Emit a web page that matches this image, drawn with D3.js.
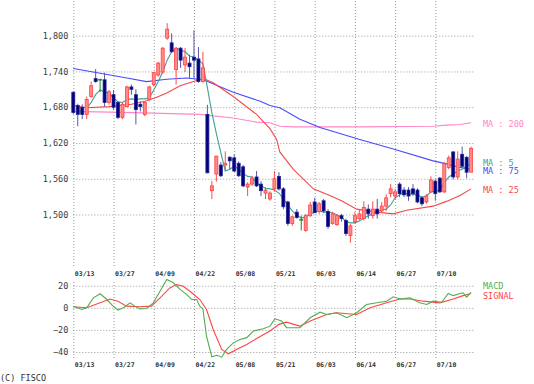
<!DOCTYPE html>
<html>
<head>
<meta charset="utf-8">
<script src="https://cdn.jsdelivr.net/npm/d3@7"></script>
<style>
body { margin: 0; background: #fff; }
svg text { font-family: "DejaVu Sans Mono", monospace; }
.grid line { stroke: #9a9a9a; stroke-dasharray: 1,2; }
.grid path { display: none; }
</style>
</head>
<body>
<div id="chart"></div>
<script>
// Candle chart with moving averages + MACD panel

// Data
// =========================
var tickIdx = [0, 9, 18, 27, 36, 45, 54, 63, 72, 81];
var tickLabels = ["03/13", "03/27", "04/09", "04/22", "05/08", "05/21", "06/03", "06/14", "06/27", "07/10"];
var priceTicks = [1500, 1560, 1620, 1680, 1740, 1800];
var macdTicks = [-40, -20, 0, 20];

var opens = [1705,1683,1680,1668,1698,1728,1726,1726,1688,1701,
  1688,1663,1681,1714,1701,1685,1668,1693,1718,1734,
  1739,1796,1788,1743,1779,1751,1754,1764,1761,1723,
  1668,1540,1568,1583,1583,1596,1595,1586,1580,1546,
  1551,1563,1551,1536,1526,1543,1564,1543,1521,1485,
  1504,1491,1473,1498,1521,1505,1523,1505,1485,1483,
  1498,1490,1465,1488,1493,1493,1509,1498,1509,1506,
  1514,1535,1531,1551,1541,1541,1543,1541,1528,1521,
  1538,1556,1561,1538,1579,1605,1563,1601,1596,1571];
var highs = [1707,1686,1685,1698,1723,1744,1728,1738,1709,1709,
  1690,1688,1716,1718,1710,1690,1690,1716,1739,1756,
  1781,1821,1804,1781,1781,1779,1768,1809,1781,1773,
  1684,1556,1598,1588,1606,1598,1601,1589,1583,1554,
  1565,1573,1556,1546,1539,1573,1571,1546,1523,1498,
  1509,1498,1501,1521,1528,1521,1526,1509,1504,1501,
  1501,1493,1484,1504,1509,1522,1517,1522,1526,1521,
  1534,1551,1543,1554,1546,1546,1551,1544,1531,1534,
  1564,1559,1563,1588,1599,1606,1606,1614,1598,1614];
var lows = [1668,1648,1660,1660,1696,1721,1705,1681,1684,1676,
  1660,1660,1680,1701,1651,1673,1665,1690,1715,1731,
  1736,1793,1771,1718,1746,1739,1729,1729,1721,1721,
  1569,1526,1555,1563,1573,1576,1571,1563,1546,1531,
  1548,1546,1531,1526,1523,1538,1540,1509,1481,1481,
  1493,1473,1471,1496,1503,1501,1503,1476,1483,1481,
  1488,1464,1453,1485,1490,1490,1493,1493,1493,1504,
  1506,1529,1526,1529,1529,1523,1531,1519,1514,1518,
  1536,1523,1536,1536,1576,1559,1559,1579,1561,1571];
var closes = [1671,1668,1668,1693,1716,1723,1726,1688,1706,1680,
  1663,1685,1714,1710,1676,1681,1688,1714,1738,1754,
  1779,1811,1773,1779,1759,1764,1748,1759,1723,1746,
  1570,1548,1598,1565,1586,1590,1573,1565,1548,1551,
  1561,1548,1540,1541,1536,1560,1543,1513,1485,1496,
  1495,1491,1498,1516,1503,1518,1506,1480,1501,1498,
  1493,1468,1481,1498,1501,1512,1501,1509,1501,1514,
  1528,1543,1538,1535,1533,1531,1535,1521,1518,1531,
  1558,1535,1538,1585,1595,1563,1593,1581,1571,1611];

// MA 5 per bar (starts at bar 3)
var ma5 = [null,null,null,1679,1688,1701,1709,1706,1703,1696,
  1689,1688,1693,1694,1693,1694,1694,1696,1709,1723,
  1739,1759,1773,1779,1776,1773,1766,1764,1759,1753,
  1713,1671,1636,1604,1573,1576,1581,1576,1569,1564,
  1563,1553,1548,1544,1543,1541,1536,1526,1516,1506,
  1499,1494,1496,1501,1504,1506,1504,1504,1503,1499,
  1496,1488,1486,1486,1489,1494,1498,1501,1504,1508,
  1509,1516,1528,1533,1536,1534,1534,1533,1529,1531,
  1538,1539,1541,1553,1563,1568,1573,1576,1581,1586];

// [bar, value] points for the slower lines
var ma25 = [[0,1683],[3,1679],[8,1681],[13,1685],[16,1690],[18.4,1696],[20.9,1704],
  [23.9,1716],[26.9,1723],[29.1,1728],[31.3,1721],[35.8,1698],[41,1668],[44,1644],
  [45.5,1626],[46.2,1605],[49.2,1576],[53.7,1543],[57.4,1532],[60,1523],[63.4,1509],
  [67.9,1504],[71.6,1501],[74.6,1507],[80.5,1514],[83.5,1522],[86.5,1532],[89,1543]];
var ma75 = [[0,1745],[6,1737],[12,1729],[16.4,1723],[20.9,1727],[25.4,1729],[29.1,1726],
  [35.8,1705],[41.8,1690],[44,1683],[46.2,1679],[50.7,1660],[55.2,1646],[64.1,1626],
  [71.6,1610],[80.5,1590],[83.5,1585],[86.5,1579],[89,1576]];
var ma200 = [[0,1673],[13.4,1671],[28.3,1668],[35.8,1662],[41,1655],[44,1654],[46.2,1648],
  [49.2,1647],[64,1647],[80.5,1648],[83.5,1650],[86.5,1651],[89,1654]];

var macd = [[0,1.5],[1.9,-1.5],[3,0],[4.5,9],[6,12.7],[7.5,7.5],[8.9,1.5],[10,-2],[11.2,0],
  [12.7,4.5],[13.8,1.5],[14.9,-1],[16.4,-0.6],[17.9,4.5],[19.4,15],[20.9,25.6],[22.4,22.6],
  [23.9,16.6],[25.4,12],[26.5,7.5],[27.6,7.5],[28.3,1.5],[29,-1],[29.8,-25.7],[31,-44.3],
  [32.1,-43],[33.2,-44.7],[34.3,-37.7],[35.8,-31.7],[37.3,-28.7],[38.8,-27],[40.3,-21],
  [42.5,-19],[44,-16.6],[45.1,-10],[46.6,-12],[47.7,-18],[50.7,-18],[53,-9],[55.2,-4],
  [56.7,-6],[58.9,-4.5],[61.2,-9],[63.4,-4.5],[65.6,3],[67.9,4.5],[70.1,6],[71.6,10],
  [73.1,8],[75.3,9],[77.5,4.5],[79.1,3],[80.5,6],[82.4,5],[83.9,13],[85,11],[86.5,13],
  [87.2,13.6],[88,9.6],[89,14]];
var signal = [[0,1],[3,0],[6,4.5],[8.2,8],[10,6],[11.9,1.5],[14.9,1],[17.5,1.5],[19.4,9],
  [21.6,18],[23.1,21],[24.6,19.5],[26.5,13.6],[28.3,7.5],[29.8,-1.5],[31.3,-19.6],
  [33.2,-37.7],[34.7,-41.6],[36.5,-37.7],[38.8,-33.2],[41.8,-26],[44,-21],[46,-15],
  [47.7,-13],[50.7,-16.6],[53,-12],[56.7,-6],[58.9,-4.5],[63.4,-6],[66.4,0],[70.1,4.5],
  [73.1,8],[75.3,8],[78.3,6],[82,4.5],[85,8],[87.2,11],[89,13]];

// Setup
// =====
var width = 534;
var height = 384;

var svg = d3.select("#chart")
  .append("svg")
  .attr("width", width)
  .attr("height", height);

var xScale = d3.scaleLinear().domain([0, 89]).range([73.3, 471.1]);
var yScale = d3.scaleLinear().domain([1500, 1800]).range([214.5, 35.7]);
var mScale = d3.scaleLinear().domain([-40, 20]).range([352, 285.7]);

var gridLeft = 73.3;
var gridW = 400;

// Grids / axes
// ============
function styleXAxis(g, textY) {
  g.selectAll("text")
    .attr("text-anchor", "start")
    .attr("x", 1)
    .attr("y", textY)
    .attr("dy", 0)
    .attr("font-size", "6.5px")
    .attr("font-weight", "bold")
    .attr("fill", "#333");
}

// main price panel
svg.append("g")
  .attr("class", "grid")
  .attr("transform", "translate(0,266)")
  .call(d3.axisBottom(xScale).tickValues(tickIdx).tickSize(-266)
    .tickFormat(function(d, i) { return tickLabels[i]; }))
  .call(styleXAxis, 10);

svg.append("g")
  .attr("class", "grid")
  .attr("transform", "translate(" + gridLeft + ",0)")
  .call(d3.axisLeft(yScale).tickValues(priceTicks).tickSize(-gridW).tickPadding(5)
    .tickFormat(d3.format(",")))
  .selectAll("text")
  .attr("font-size", "8.5px")
  .attr("fill", "#3a3a3a");

// macd panel
svg.append("g")
  .attr("class", "grid")
  .attr("transform", "translate(0,358)")
  .call(d3.axisBottom(xScale).tickValues(tickIdx).tickSize(-78)
    .tickFormat(function(d, i) { return tickLabels[i]; }))
  .call(styleXAxis, 9);

svg.append("g")
  .attr("class", "grid")
  .attr("transform", "translate(" + gridLeft + ",0)")
  .call(d3.axisLeft(mScale).tickValues(macdTicks).tickSize(-gridW).tickPadding(5))
  .selectAll("text")
  .attr("font-size", "8.5px")
  .attr("fill", "#3a3a3a");

// Moving averages
// ===============
var idxLine = d3.line()
  .x(function(d) { return xScale(d[0]); })
  .y(function(d) { return yScale(d[1]); });

var ma5Pts = ma5.map(function(v, i) { return [i, v]; }).filter(function(d) { return d[1] != null; });

var maLines = [
  { pts: ma200, color: "#ff86c8", label: "MA : 200", dy: 1 },
  { pts: ma75, color: "#4a4aff", label: "MA : 75", dy: 2 },
  { pts: ma25, color: "#f24a4a", label: "MA : 25", dy: 1 },
  { pts: ma5Pts, color: "#3f9f98", label: "MA : 5", dy: 0 }
];

maLines.forEach(function(m) {
  svg.append("path")
    .datum(m.pts)
    .attr("d", idxLine)
    .attr("fill", "none")
    .attr("stroke", m.color)
    .attr("stroke-width", 1.1);
});

// Candles
// =======
var bars = d3.range(opens.length).map(function(i) {
  return { i: i, o: opens[i], h: highs[i], l: lows[i], c: closes[i] };
});

function wickColor(d) {
  if (d.c > d.o) return "#ff4a4a";
  if (d.c < d.o) return "#5858a8";
  return "#1f8a1f";
}

var candles = svg.append("g").selectAll("g").data(bars).enter().append("g");

candles.append("line")
  .attr("x1", function(d) { return xScale(d.i); })
  .attr("x2", function(d) { return xScale(d.i); })
  .attr("y1", function(d) { return yScale(d.h); })
  .attr("y2", function(d) { return yScale(d.l); })
  .attr("stroke", wickColor)
  .attr("stroke-width", 1);

candles.filter(function(d) { return d.c != d.o; })
  .append("rect")
  .attr("x", function(d) { return xScale(d.i) - 1.5; })
  .attr("width", 3)
  .attr("y", function(d) { return yScale(Math.max(d.o, d.c)); })
  .attr("height", function(d) { return Math.max(1, yScale(Math.min(d.o, d.c)) - yScale(Math.max(d.o, d.c))); })
  .attr("fill", function(d) { return d.c > d.o ? "#ff8a8a" : "#000080"; })
  .attr("stroke", function(d) { return d.c > d.o ? "#ff4040" : "#23238f"; })
  .attr("stroke-width", 0.8);

candles.filter(function(d) { return d.c == d.o; })
  .append("line")
  .attr("x1", function(d) { return xScale(d.i) - 2; })
  .attr("x2", function(d) { return xScale(d.i) + 2; })
  .attr("y1", function(d) { return yScale(d.o); })
  .attr("y2", function(d) { return yScale(d.o); })
  .attr("stroke", "#1f8a1f")
  .attr("stroke-width", 1.5);

// MA labels, placed at the last value of each line
maLines.forEach(function(m) {
  var last = m.pts[m.pts.length - 1];
  svg.append("text")
    .attr("x", 483)
    .attr("y", yScale(last[1]) + m.dy)
    .attr("dy", "0.35em")
    .attr("font-size", "8.5px")
    .attr("fill", m.color)
    .text(m.label);
});

// MACD
// ====
var mLine = d3.line()
  .x(function(d) { return xScale(d[0]); })
  .y(function(d) { return mScale(d[1]); });

svg.append("path").datum(signal).attr("d", mLine)
  .attr("fill", "none").attr("stroke", "#ff4646").attr("stroke-width", 1.1);
svg.append("path").datum(macd).attr("d", mLine)
  .attr("fill", "none").attr("stroke", "#4fae4f").attr("stroke-width", 1.1);

svg.append("text").attr("x", 483).attr("y", 288.5)
  .attr("font-size", "8.5px").attr("fill", "#4fae4f").text("MACD");
svg.append("text").attr("x", 483).attr("y", 298.5)
  .attr("font-size", "8.5px").attr("fill", "#ff4646").text("SIGNAL");

svg.append("text").attr("x", 0).attr("y", 381)
  .attr("font-size", "8.5px").attr("fill", "#333").text("(C) FISCO");
</script>
</body>
</html>
